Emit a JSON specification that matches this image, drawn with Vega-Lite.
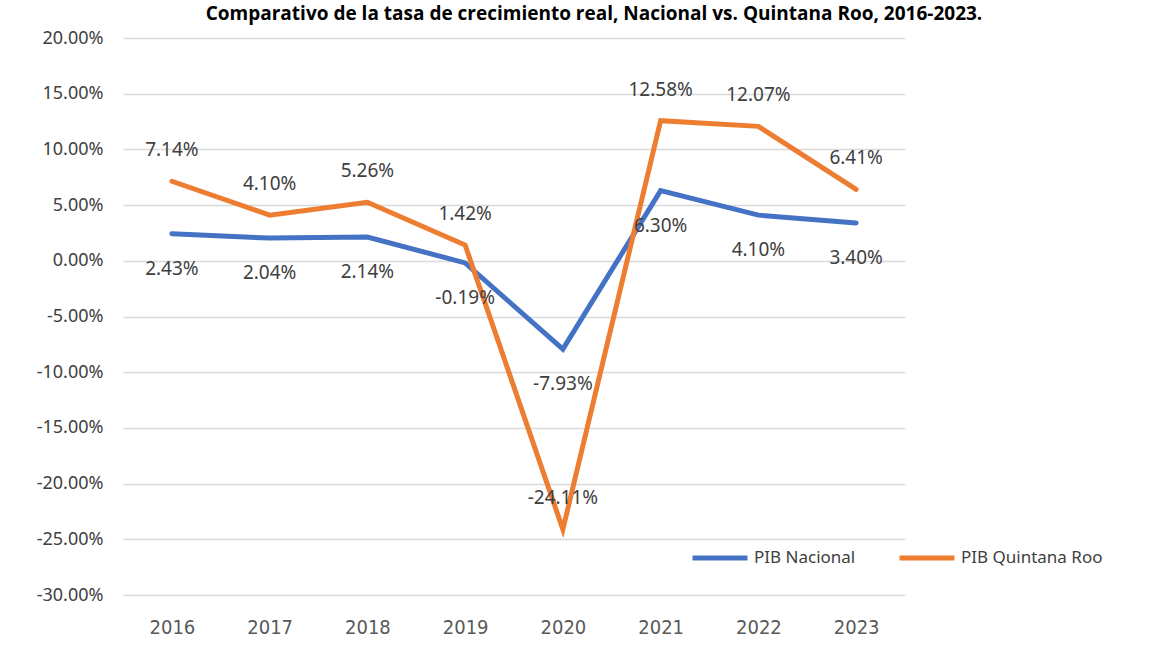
{
  "$schema": "https://vega.github.io/schema/vega-lite/v6.json",
  "autosize": {"type": "none"},
  "width": 782,
  "height": 557,
  "padding": {"left": 123, "top": 38, "right": 267, "bottom": 57},
  "background": "white",
  "title": {
    "text": "Comparativo de la tasa de crecimiento real, Nacional vs. Quintana Roo, 2016-2023.",
    "font": "Open Sans",
    "fontSize": 19,
    "fontWeight": "bold",
    "color": "#000000",
    "anchor": "middle",
    "dx": 80,
    "baseline": "top",
    "offset": 5
  },
  "config": {
    "locale": {"number": {"decimal": ".", "thousands": ",", "grouping": [3], "currency": ["$", ""], "minus": "-", "percent": "%"}},
    "view": {"stroke": null},
    "font": "Noto Sans"
  },
  "data": {
    "values": [
      {"year": "2016", "serie": "PIB Nacional", "valor": 0.0243},
      {"year": "2017", "serie": "PIB Nacional", "valor": 0.0204},
      {"year": "2018", "serie": "PIB Nacional", "valor": 0.0214},
      {"year": "2019", "serie": "PIB Nacional", "valor": -0.0019},
      {"year": "2020", "serie": "PIB Nacional", "valor": -0.0793},
      {"year": "2021", "serie": "PIB Nacional", "valor": 0.063},
      {"year": "2022", "serie": "PIB Nacional", "valor": 0.041},
      {"year": "2023", "serie": "PIB Nacional", "valor": 0.034},
      {"year": "2016", "serie": "PIB Quintana Roo", "valor": 0.0714},
      {"year": "2017", "serie": "PIB Quintana Roo", "valor": 0.041},
      {"year": "2018", "serie": "PIB Quintana Roo", "valor": 0.0526},
      {"year": "2019", "serie": "PIB Quintana Roo", "valor": 0.0142},
      {"year": "2020", "serie": "PIB Quintana Roo", "valor": -0.2411},
      {"year": "2021", "serie": "PIB Quintana Roo", "valor": 0.1258},
      {"year": "2022", "serie": "PIB Quintana Roo", "valor": 0.1207},
      {"year": "2023", "serie": "PIB Quintana Roo", "valor": 0.0641}
    ]
  },
  "encoding": {
    "x": {
      "field": "year", "type": "ordinal", "title": null,
      "axis": {
        "labelAngle": 0, "domain": false, "ticks": false, "grid": false,
        "labelFont": "Liberation Sans Narrow, DejaVu Sans Condensed, sans-serif",
        "labelFontSize": 20, "labelColor": "#595959", "labelPadding": 22
      }
    },
    "y": {
      "field": "valor", "type": "quantitative", "title": null,
      "scale": {"domain": [-0.3, 0.2], "nice": false, "zero": false},
      "axis": {
        "values": [-0.3, -0.25, -0.2, -0.15, -0.1, -0.05, 0, 0.05, 0.1, 0.15, 0.2],
        "format": ".2%", "domain": false, "ticks": false,
        "gridColor": "#d9d9d9", "gridWidth": 1.5,
        "labelFont": "Noto Sans", "labelFontSize": 18, "labelColor": "#404040", "labelPadding": 20
      }
    }
  },
  "layer": [
    {
      "mark": {"type": "line", "strokeWidth": 5, "strokeCap": "round", "strokeJoin": "miter"},
      "encoding": {
        "color": {
          "field": "serie", "type": "nominal", "title": null,
          "scale": {"domain": ["PIB Nacional", "PIB Quintana Roo"], "range": ["#4472C4", "#ED7D31"]},
          "legend": {
            "orient": "none", "direction": "horizontal", "legendX": 567, "legendY": 490,
            "symbolType": "stroke", "symbolSize": 3025, "symbolStrokeWidth": 5,
            "labelFont": "Noto Sans", "labelFontSize": 17, "labelColor": "#404040",
            "labelOffset": 4, "columnPadding": 33, "padding": 0
          }
        }
      }
    },
    {
      "transform": [{"filter": "datum.serie === 'PIB Quintana Roo'"}],
      "mark": {"type": "text", "dy": -31, "font": "Noto Sans", "fontSize": 19, "color": "#404040"},
      "encoding": {"text": {"field": "valor", "type": "quantitative", "format": ".2%"}}
    },
    {
      "transform": [{"filter": "datum.serie === 'PIB Nacional'"}],
      "mark": {"type": "text", "dy": 35, "font": "Noto Sans", "fontSize": 19, "color": "#404040"},
      "encoding": {"text": {"field": "valor", "type": "quantitative", "format": ".2%"}}
    }
  ]
}
